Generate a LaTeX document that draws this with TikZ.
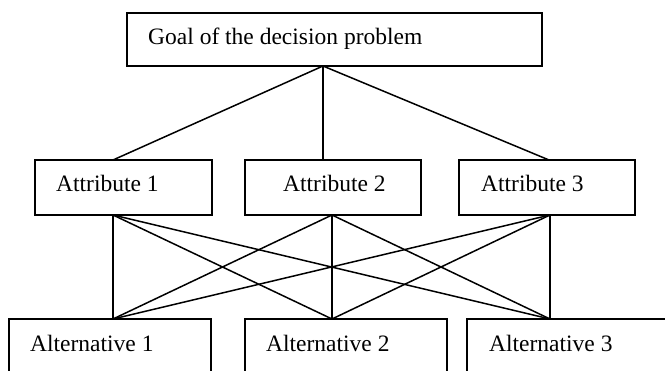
\documentclass[tikz,border=0pt]{standalone}
\usepackage{fontspec}
\setmainfont{Liberation Serif}
\begin{document}
\begin{tikzpicture}[x=1pt,y=-1pt,
  box/.style={draw=black,line width=1.7pt,fill=white},
  link/.style={draw=black,line width=1.5pt},
  lbl/.style={anchor=base west,inner sep=0pt,font=\fontsize{23.5}{27}\selectfont}]
\useasboundingbox (0,0) rectangle (665,371);
\clip (0,0) rectangle (665,371);
% boxes
\draw[box] (127,13) rectangle (542,66);
\draw[box] (35,160) rectangle (212,215);
\draw[box] (245,160) rectangle (421,215);
\draw[box] (459,160) rectangle (635,215);
\draw[box] (9,319) rectangle (211,390);
\draw[box] (245,319) rectangle (447,390);
\draw[box] (467,319) rectangle (690,390);
% connection points
\coordinate (g) at (323,66);
\coordinate (a1t) at (113,160);
\coordinate (a2t) at (323,160);
\coordinate (a3t) at (549,160);
\coordinate (a1b) at (113,215);
\coordinate (a2b) at (332,215);
\coordinate (a3b) at (550,215);
\coordinate (l1) at (113,319);
\coordinate (l2) at (332,319);
\coordinate (l3) at (550,319);
% connectors
\foreach \t in {a1t,a2t,a3t} \draw[link] (g) -- (\t);
\foreach \s in {a1b,a2b,a3b}
  \foreach \t in {l1,l2,l3}
    \draw[link] (\s) -- (\t);
% texts
\node[lbl] (tg) at (148,45) {Goal of the decision problem};
\node[lbl] (ta1) at (56,192) {Attribute 1};
\node[lbl] (ta2) at (283,192) {Attribute 2};
\node[lbl] (ta3) at (481,192) {Attribute 3};
\node[lbl] (tl1) at (30,352) {Alternative 1};
\node[lbl] (tl2) at (266,352) {Alternative 2};
\node[lbl] (tl3) at (489,352) {Alternative 3};
\end{tikzpicture}
\end{document}
